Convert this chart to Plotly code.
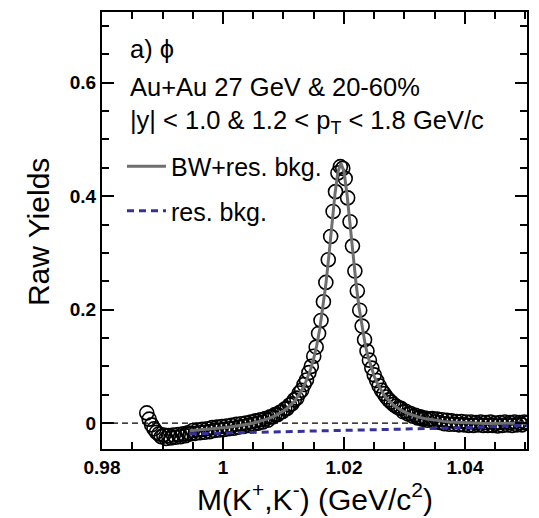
import numpy as np
import plotly.graph_objects as go

# K+K- invariant-mass histogram, 0.4 MeV/c^2 bins starting at 0.9874 GeV/c^2
bin_first = 0.9874
bin_width = 0.0004
raw_yield = [
    0.018, 0.007, -0.003, -0.010, -0.016, -0.019, -0.024, -0.021, -0.027, -0.022,
    -0.026, -0.021, -0.025, -0.020, -0.024, -0.019, -0.022, -0.017,
    -0.019, -0.013, -0.018, -0.012, -0.017, -0.011, -0.016, -0.010, -0.015, -0.008,
    -0.013, -0.007, -0.012, -0.006, -0.011, -0.005, -0.010, -0.004, -0.009, -0.002,
    -0.007, -0.001, -0.006, 0.000, -0.004, 0.002, -0.002, 0.004, 0.000, 0.006,
    0.002, 0.008, 0.005,
    0.011, 0.011, 0.015, 0.015, 0.019, 0.020, 0.025, 0.026, 0.032, 0.034,
    0.041, 0.044, 0.053, 0.058, 0.068, 0.076, 0.089, 0.100, 0.118, 0.134,
    0.158, 0.181, 0.214, 0.248, 0.288, 0.329, 0.373, 0.408, 0.441, 0.452,
    0.449, 0.431, 0.397, 0.355, 0.312, 0.268, 0.233, 0.199, 0.171, 0.147,
    0.127, 0.111, 0.097, 0.085, 0.075, 0.066, 0.058, 0.052, 0.046, 0.041,
    0.037, 0.033, 0.030, 0.027, 0.026, 0.020, 0.021, 0.016, 0.017, 0.012,
    0.014, 0.009, 0.011, 0.007, 0.009, 0.005, 0.007,
    0.008, 0.002, 0.007, 0.001, 0.006, -0.001, 0.005, -0.002, 0.004, -0.002,
    0.003, -0.003, 0.003, -0.003, 0.002, -0.004, 0.002, -0.004, 0.001, -0.003,
    0.002, -0.004, 0.001, -0.004, 0.002, -0.004, 0.000, -0.005, 0.001, -0.004,
    0.002, -0.003, 0.001, -0.004, 0.002, -0.003, 0.001, -0.003, 0.002, 0.000,
]
mass = np.round(bin_first + bin_width * np.arange(len(raw_yield)), 4)

# Breit-Wigner + residual background fit, and the residual background alone
fit_mass = [
    0.9945, 0.9955, 0.9965, 0.9975, 0.9985, 0.9995, 1.0005, 1.0015, 1.0025, 1.0035,
    1.0045, 1.0055, 1.0065, 1.0075, 1.0085,
    1.0095, 1.0100, 1.0105, 1.0110, 1.0115, 1.0120, 1.0125, 1.0130, 1.0135, 1.0140,
    1.0145, 1.0150, 1.0155, 1.0160, 1.0165, 1.0170, 1.0175, 1.0180, 1.0185, 1.0190,
    1.0195, 1.0200, 1.0205, 1.0210, 1.0215, 1.0220, 1.0225, 1.0230, 1.0235, 1.0240,
    1.0245, 1.0250, 1.0255, 1.0260, 1.0265, 1.0270, 1.0275, 1.0280, 1.0285, 1.0290,
    1.0295,
    1.0305, 1.0315, 1.0325, 1.0335, 1.0345, 1.0355, 1.0365, 1.0375, 1.0385, 1.0395,
    1.0405, 1.0415, 1.0425, 1.0435, 1.0445, 1.0455, 1.0465, 1.0475, 1.0485, 1.0495,
    1.0505,
]
fit_total = [
    -0.0133, -0.0125, -0.0118, -0.0109, -0.0100, -0.0089, -0.0077, -0.0064, -0.0049, -0.0031,
    -0.0011, 0.0014, 0.0043, 0.0079, 0.0123,
    0.0180, 0.0214, 0.0253, 0.0298, 0.0351, 0.0413, 0.0486, 0.0572, 0.0676, 0.0801,
    0.0954, 0.1141, 0.1373, 0.1664, 0.2015, 0.2446, 0.2947, 0.3498, 0.4030, 0.4430,
    0.4582, 0.4432, 0.4034, 0.3505, 0.2956, 0.2457, 0.2028, 0.1679, 0.1390, 0.1161,
    0.0976, 0.0825, 0.0703, 0.0601, 0.0517, 0.0446, 0.0387, 0.0336, 0.0293, 0.0256,
    0.0224,
    0.0172, 0.0133, 0.0102, 0.0078, 0.0059, 0.0043, 0.0031, 0.0020, 0.0013, 0.0006,
    0.0001, -0.0002, -0.0004, -0.0005, -0.0006, -0.0006, -0.0006, -0.0005, -0.0004, -0.0003,
    -0.0001,
]
res_bkg = [
    -0.0189, -0.0186, -0.0184, -0.0181, -0.0179, -0.0176, -0.0174, -0.0171, -0.0169, -0.0166,
    -0.0164, -0.0161, -0.0159, -0.0156, -0.0154,
    -0.0151, -0.0150, -0.0149, -0.0148, -0.0147, -0.0145, -0.0144, -0.0143, -0.0142, -0.0141,
    -0.0140, -0.0139, -0.0137, -0.0136, -0.0135, -0.0134, -0.0133, -0.0132, -0.0130, -0.0129,
    -0.0128, -0.0127, -0.0126, -0.0125, -0.0124, -0.0123, -0.0122, -0.0121, -0.0120, -0.0119,
    -0.0118, -0.0117, -0.0115, -0.0114, -0.0113, -0.0112, -0.0111, -0.0110, -0.0109, -0.0108,
    -0.0107,
    -0.0105, -0.0102, -0.0100, -0.0097, -0.0094, -0.0092, -0.0089, -0.0087, -0.0084, -0.0081,
    -0.0078, -0.0074, -0.0070, -0.0066, -0.0062, -0.0058, -0.0054, -0.0050, -0.0046, -0.0042,
    -0.0038,
]

x_tick_vals = [0.98, 1.00, 1.02, 1.04]
x_tick_text = ["0.98", "1", "1.02", "1.04"]
y_tick_vals = [0.0, 0.2, 0.4, 0.6]
y_tick_text = ["0", "0.2", "0.4", "0.6"]

FONT = "Liberation Sans, Arial, Helvetica, sans-serif"
FIT_GREY = "#6f6f6f"
BKG_BLUE = "#34319a"

fig = go.Figure()

fig.add_trace(go.Scatter(
    x=mass, y=raw_yield, mode="markers", showlegend=False,
    marker=dict(symbol="circle-open", size=14, color="black",
                line=dict(width=1.6, color="black")),
))
fig.add_trace(go.Scatter(
    x=fit_mass, y=fit_total, mode="lines", name="BW+res. bkg.",
    legendgroup="fit", line=dict(color=FIT_GREY, width=3),
))
fig.add_trace(go.Scatter(
    x=fit_mass, y=res_bkg, mode="lines", name="res. bkg.",
    legendgroup="bkg", line=dict(color=BKG_BLUE, width=3, dash="7px,5px"),
))

# dashed zero line
fig.add_hline(y=0, line=dict(color="black", width=1.2, dash="6px,4px"), layer="below")

axis_common = dict(
    ticks="inside", ticklen=12, tickwidth=2, tickcolor="black",
    showline=True, linewidth=2, linecolor="black", mirror="allticks",
    showgrid=False, zeroline=False,
    tickfont=dict(family=FONT, size=19, color="black", weight="bold"),
)

fig.update_xaxes(
    range=[0.98, 1.05025], tickmode="array", tickvals=x_tick_vals, ticktext=x_tick_text,
    minor=dict(dtick=0.005, ticks="inside", ticklen=7, tickwidth=2, tickcolor="black",
               showgrid=False),
    **axis_common,
)
fig.update_yaxes(
    range=[-0.0456, 0.7246], tickmode="array", tickvals=y_tick_vals, ticktext=y_tick_text,
    minor=dict(dtick=0.05, ticks="inside", ticklen=7, tickwidth=2, tickcolor="black",
               showgrid=False),
    **axis_common,
)

text_font = dict(family=FONT, size=25.5, color="black")
labels = [
    ("a) ϕ", 0.9157),
    ("Au+Au 27 GeV &amp; 20-60%", 0.8292),
    ("|y| &lt; 1.0 &amp; 1.2 &lt; p<sub>T</sub> &lt; 1.8 GeV/c", 0.7494),
]
for txt, yp in labels:
    fig.add_annotation(text=txt, xref="paper", yref="paper", x=0.06, y=yp,
                       xanchor="left", yanchor="middle", showarrow=False, font=text_font)

title_font = dict(family=FONT, size=30, color="black")
fig.add_annotation(text="Raw Yields", textangle=-90, xref="paper", yref="paper",
                   x=-0.148, y=0.4966, xanchor="center", yanchor="middle",
                   showarrow=False, font=title_font)
fig.add_annotation(text="M(K<sup>+</sup>,K<sup>-</sup>) (GeV/c<sup>2</sup>)",
                   xref="paper", yref="paper", x=0.5, y=-0.1093,
                   xanchor="center", yanchor="middle", showarrow=False, font=title_font)

fig.update_layout(
    width=539, height=518,
    margin=dict(l=102, r=12, t=10, b=69),
    paper_bgcolor="white", plot_bgcolor="white",
    legend=dict(x=0.047, y=0.699, xanchor="left", yanchor="top",
                bgcolor="rgba(0,0,0,0)", borderwidth=0,
                font=dict(family=FONT, size=25, color="black"),
                traceorder="grouped", tracegroupgap=9, itemwidth=39),
)

fig.write_html("out.html")
